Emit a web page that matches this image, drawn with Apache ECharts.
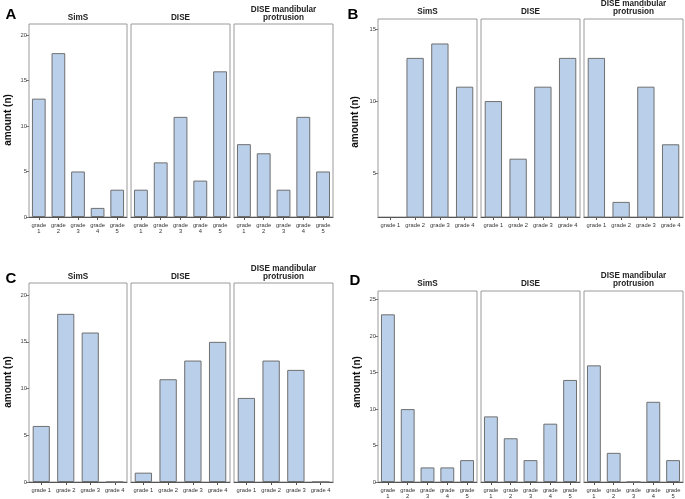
<!DOCTYPE html>
<html>
<head>
<meta charset="utf-8">
<script src="https://cdn.jsdelivr.net/npm/echarts@6/dist/echarts.min.js"></script>
<style>
html,body{margin:0;padding:0;background:#fff;}
#chart{width:685px;height:499px;}
</style>
</head>
<body>
<div id="chart"></div>
<script>
// ---- data ----
const facetTitles = ['SimS', 'DISE', 'DISE mandibular\nprotrusion'];
const panelLetters = ['A', 'B', 'C', 'D'];
const yAxisTitle = 'amount (n)';

const catsA = ['grade\n1', 'grade\n2', 'grade\n3', 'grade\n4', 'grade\n5'];
const catsB = ['grade 1', 'grade 2', 'grade 3', 'grade 4'];
const catsC = ['grade 1', 'grade 2', 'grade 3', 'grade 4'];
const catsD = ['grade\n1', 'grade\n2', 'grade\n3', 'grade\n4', 'grade\n5'];

const A_SimS = [13, 18, 5, 1, 3];
const A_DISE = [3, 6, 11, 4, 16];
const A_DISEmp = [8, 7, 3, 11, 5];

const B_SimS = [0, 13, 14, 11];
const B_DISE = [10, 6, 11, 13];
const B_DISEmp = [13, 3, 11, 7];

const C_SimS = [6, 18, 16, 0];
const C_DISE = [1, 11, 13, 15];
const C_DISEmp = [9, 13, 12, 0];

const D_SimS = [23, 10, 2, 2, 3];
const D_DISE = [9, 6, 3, 8, 14];
const D_DISEmp = [16, 4, 0, 11, 3];

const ticksA = [0, 5, 10, 15, 20];
const ticksB = [5, 10, 15];
const ticksC = [0, 5, 10, 15, 20];
const ticksD = [0, 5, 10, 15, 20, 25];

// ---- layout ----
const panels = [
  {cats: catsA, series: [A_SimS, A_DISE, A_DISEmp], ticks: ticksA, min: 0, max: 21.2,
   lefts: [29, 131, 234], widths: [98, 99, 99], top: 24, bottom: 217, letter: [11, 15], ylab: [8, 120], titleY: 18},
  {cats: catsB, series: [B_SimS, B_DISE, B_DISEmp], ticks: ticksB, min: 1.95, max: 15.7,
   lefts: [378, 481, 584], widths: [99, 99, 99], top: 19, bottom: 217, letter: [353, 15], ylab: [355, 122], titleY: 12},
  {cats: catsC, series: [C_SimS, C_DISE, C_DISEmp], ticks: ticksC, min: 0, max: 21.3,
   lefts: [29, 131, 234], widths: [98, 99, 99], top: 283, bottom: 482, letter: [11, 279], ylab: [8, 382], titleY: 277},
  {cats: catsD, series: [D_SimS, D_DISE, D_DISEmp], ticks: ticksD, min: 0, max: 26.2,
   lefts: [378, 481, 584], widths: [99, 99, 99], top: 291, bottom: 482, letter: [355, 281], ylab: [357, 382], titleY: 284}
];
const FONT = '"Liberation Sans", Arial, sans-serif';

const grid = [], xAxis = [], yAxis = [], series = [], graphic = [];
let gi = 0;
panels.forEach((p, pi) => {
  p.series.forEach((vals, fi) => {
    grid.push({
      left: p.lefts[fi], top: p.top, width: p.widths[fi], height: p.bottom - p.top,
      show: true, borderColor: '#9a9a9a', borderWidth: 1, backgroundColor: 'transparent'
    });
    xAxis.push({
      type: 'category', gridIndex: gi, data: p.cats,
      axisLine: {show: true, lineStyle: {color: '#555', width: 1}},
      axisTick: {show: true, alignWithLabel: true, length: 3, lineStyle: {color: '#555'}},
      axisLabel: {interval: 0, fontSize: 5.8, lineHeight: 6, color: '#333', margin: 5, fontFamily: FONT},
      splitLine: {show: false}
    });
    const first = fi === 0;
    yAxis.push({
      type: 'value', gridIndex: gi, min: p.min, max: p.max,
      axisLine: {show: false},
      axisTick: {show: first, length: 3, lineStyle: {color: '#777'}, customValues: p.ticks},
      axisLabel: {show: first, fontSize: 5.8, color: '#444', margin: 2, fontFamily: FONT, customValues: p.ticks},
      splitLine: {show: false}
    });
    series.push({
      type: 'bar', xAxisIndex: gi, yAxisIndex: gi, data: vals, clip: true,
      barCategoryGap: '30%',
      itemStyle: {color: '#bad0ea', borderColor: '#6f6f6f', borderWidth: 1},
      silent: true
    });
    const cx = p.lefts[fi] + p.widths[fi] / 2;
    graphic.push({
      type: 'text', x: cx, y: p.titleY + 4,
      style: {text: facetTitles[fi], fontSize: 8.2, fontWeight: 'bold', fontFamily: FONT,
              fill: '#222', textAlign: 'center', textVerticalAlign: 'bottom', lineHeight: 8.5}
    });
    gi++;
  });
  graphic.push({
    type: 'text', x: p.letter[0], y: p.letter[1],
    style: {text: panelLetters[pi], fontSize: 15, fontWeight: 'bold', fontFamily: FONT,
            fill: '#000', textAlign: 'center', textVerticalAlign: 'middle'}
  });
  graphic.push({
    type: 'text', x: p.ylab[0], y: p.ylab[1], rotation: Math.PI / 2,
    style: {text: yAxisTitle, fontSize: 10, fontWeight: 'bold', fontFamily: FONT,
            fill: '#111', textAlign: 'center', textVerticalAlign: 'middle'}
  });
});

const chart = echarts.init(document.getElementById('chart'), null, {renderer: 'canvas'});
chart.setOption({
  animation: false,
  backgroundColor: '#fff',
  grid, xAxis, yAxis, series, graphic
});
</script>
</body>
</html>
